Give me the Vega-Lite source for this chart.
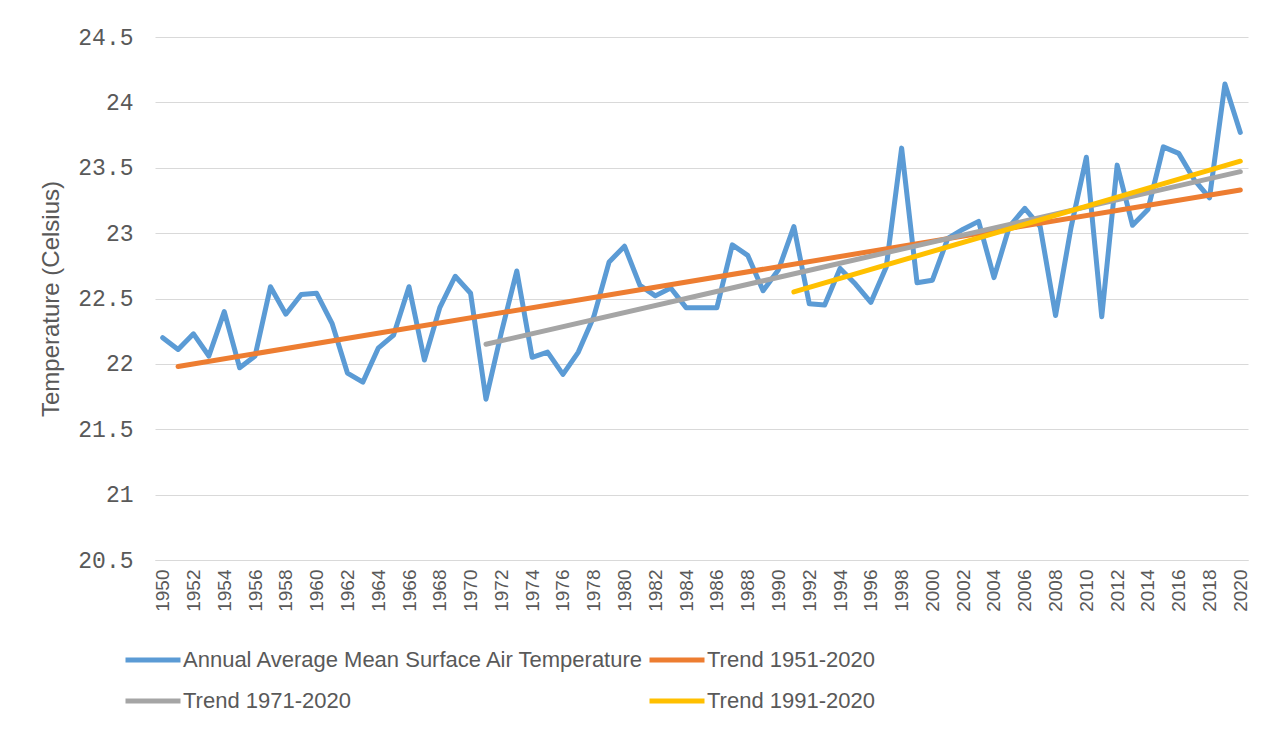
{
  "$schema": "https://vega.github.io/schema/vega-lite/v6.json",
  "width": 1093,
  "height": 523,
  "autosize": {"type": "none"},
  "padding": {"left": 155, "top": 37, "right": 24, "bottom": 172},
  "background": "white",
  "config": {
    "view": {"stroke": null},
    "font": "Liberation Sans"
  },
  "data": {
    "values": [
      {"year": 1950, "series": "Annual Average Mean Surface Air Temperature", "temp": 22.20},
      {"year": 1951, "series": "Annual Average Mean Surface Air Temperature", "temp": 22.11},
      {"year": 1952, "series": "Annual Average Mean Surface Air Temperature", "temp": 22.23},
      {"year": 1953, "series": "Annual Average Mean Surface Air Temperature", "temp": 22.06},
      {"year": 1954, "series": "Annual Average Mean Surface Air Temperature", "temp": 22.40},
      {"year": 1955, "series": "Annual Average Mean Surface Air Temperature", "temp": 21.97},
      {"year": 1956, "series": "Annual Average Mean Surface Air Temperature", "temp": 22.06},
      {"year": 1957, "series": "Annual Average Mean Surface Air Temperature", "temp": 22.59},
      {"year": 1958, "series": "Annual Average Mean Surface Air Temperature", "temp": 22.38},
      {"year": 1959, "series": "Annual Average Mean Surface Air Temperature", "temp": 22.53},
      {"year": 1960, "series": "Annual Average Mean Surface Air Temperature", "temp": 22.54},
      {"year": 1961, "series": "Annual Average Mean Surface Air Temperature", "temp": 22.31},
      {"year": 1962, "series": "Annual Average Mean Surface Air Temperature", "temp": 21.93},
      {"year": 1963, "series": "Annual Average Mean Surface Air Temperature", "temp": 21.86},
      {"year": 1964, "series": "Annual Average Mean Surface Air Temperature", "temp": 22.12},
      {"year": 1965, "series": "Annual Average Mean Surface Air Temperature", "temp": 22.22},
      {"year": 1966, "series": "Annual Average Mean Surface Air Temperature", "temp": 22.59},
      {"year": 1967, "series": "Annual Average Mean Surface Air Temperature", "temp": 22.03},
      {"year": 1968, "series": "Annual Average Mean Surface Air Temperature", "temp": 22.43},
      {"year": 1969, "series": "Annual Average Mean Surface Air Temperature", "temp": 22.67},
      {"year": 1970, "series": "Annual Average Mean Surface Air Temperature", "temp": 22.54},
      {"year": 1971, "series": "Annual Average Mean Surface Air Temperature", "temp": 21.73},
      {"year": 1972, "series": "Annual Average Mean Surface Air Temperature", "temp": 22.24},
      {"year": 1973, "series": "Annual Average Mean Surface Air Temperature", "temp": 22.71},
      {"year": 1974, "series": "Annual Average Mean Surface Air Temperature", "temp": 22.05},
      {"year": 1975, "series": "Annual Average Mean Surface Air Temperature", "temp": 22.09},
      {"year": 1976, "series": "Annual Average Mean Surface Air Temperature", "temp": 21.92},
      {"year": 1977, "series": "Annual Average Mean Surface Air Temperature", "temp": 22.09},
      {"year": 1978, "series": "Annual Average Mean Surface Air Temperature", "temp": 22.36},
      {"year": 1979, "series": "Annual Average Mean Surface Air Temperature", "temp": 22.78},
      {"year": 1980, "series": "Annual Average Mean Surface Air Temperature", "temp": 22.90},
      {"year": 1981, "series": "Annual Average Mean Surface Air Temperature", "temp": 22.60},
      {"year": 1982, "series": "Annual Average Mean Surface Air Temperature", "temp": 22.52},
      {"year": 1983, "series": "Annual Average Mean Surface Air Temperature", "temp": 22.58},
      {"year": 1984, "series": "Annual Average Mean Surface Air Temperature", "temp": 22.43},
      {"year": 1985, "series": "Annual Average Mean Surface Air Temperature", "temp": 22.43},
      {"year": 1986, "series": "Annual Average Mean Surface Air Temperature", "temp": 22.43},
      {"year": 1987, "series": "Annual Average Mean Surface Air Temperature", "temp": 22.91},
      {"year": 1988, "series": "Annual Average Mean Surface Air Temperature", "temp": 22.83},
      {"year": 1989, "series": "Annual Average Mean Surface Air Temperature", "temp": 22.56},
      {"year": 1990, "series": "Annual Average Mean Surface Air Temperature", "temp": 22.72},
      {"year": 1991, "series": "Annual Average Mean Surface Air Temperature", "temp": 23.05},
      {"year": 1992, "series": "Annual Average Mean Surface Air Temperature", "temp": 22.46},
      {"year": 1993, "series": "Annual Average Mean Surface Air Temperature", "temp": 22.45},
      {"year": 1994, "series": "Annual Average Mean Surface Air Temperature", "temp": 22.73},
      {"year": 1995, "series": "Annual Average Mean Surface Air Temperature", "temp": 22.61},
      {"year": 1996, "series": "Annual Average Mean Surface Air Temperature", "temp": 22.47},
      {"year": 1997, "series": "Annual Average Mean Surface Air Temperature", "temp": 22.74},
      {"year": 1998, "series": "Annual Average Mean Surface Air Temperature", "temp": 23.65},
      {"year": 1999, "series": "Annual Average Mean Surface Air Temperature", "temp": 22.62},
      {"year": 2000, "series": "Annual Average Mean Surface Air Temperature", "temp": 22.64},
      {"year": 2001, "series": "Annual Average Mean Surface Air Temperature", "temp": 22.96},
      {"year": 2002, "series": "Annual Average Mean Surface Air Temperature", "temp": 23.03},
      {"year": 2003, "series": "Annual Average Mean Surface Air Temperature", "temp": 23.09},
      {"year": 2004, "series": "Annual Average Mean Surface Air Temperature", "temp": 22.66},
      {"year": 2005, "series": "Annual Average Mean Surface Air Temperature", "temp": 23.05},
      {"year": 2006, "series": "Annual Average Mean Surface Air Temperature", "temp": 23.19},
      {"year": 2007, "series": "Annual Average Mean Surface Air Temperature", "temp": 23.05},
      {"year": 2008, "series": "Annual Average Mean Surface Air Temperature", "temp": 22.37},
      {"year": 2009, "series": "Annual Average Mean Surface Air Temperature", "temp": 23.04},
      {"year": 2010, "series": "Annual Average Mean Surface Air Temperature", "temp": 23.58},
      {"year": 2011, "series": "Annual Average Mean Surface Air Temperature", "temp": 22.36},
      {"year": 2012, "series": "Annual Average Mean Surface Air Temperature", "temp": 23.52},
      {"year": 2013, "series": "Annual Average Mean Surface Air Temperature", "temp": 23.06},
      {"year": 2014, "series": "Annual Average Mean Surface Air Temperature", "temp": 23.18},
      {"year": 2015, "series": "Annual Average Mean Surface Air Temperature", "temp": 23.66},
      {"year": 2016, "series": "Annual Average Mean Surface Air Temperature", "temp": 23.61},
      {"year": 2017, "series": "Annual Average Mean Surface Air Temperature", "temp": 23.41},
      {"year": 2018, "series": "Annual Average Mean Surface Air Temperature", "temp": 23.27},
      {"year": 2019, "series": "Annual Average Mean Surface Air Temperature", "temp": 24.14},
      {"year": 2020, "series": "Annual Average Mean Surface Air Temperature", "temp": 23.77},
      {"year": 1951, "series": "Trend 1951-2020", "temp": 21.98},
      {"year": 2020, "series": "Trend 1951-2020", "temp": 23.33},
      {"year": 1971, "series": "Trend 1971-2020", "temp": 22.15},
      {"year": 2020, "series": "Trend 1971-2020", "temp": 23.47},
      {"year": 1991, "series": "Trend 1991-2020", "temp": 22.55},
      {"year": 2020, "series": "Trend 1991-2020", "temp": 23.55}
    ]
  },
  "mark": {"type": "line", "strokeWidth": 5, "strokeCap": "round", "strokeJoin": "round"},
  "encoding": {
    "x": {
      "field": "year",
      "type": "quantitative",
      "scale": {"domain": [1949.5, 2020.5], "nice": false, "zero": false},
      "axis": {
        "title": null,
        "values": [1950,1952,1954,1956,1958,1960,1962,1964,1966,1968,1970,1972,1974,1976,1978,1980,1982,1984,1986,1988,1990,1992,1994,1996,1998,2000,2002,2004,2006,2008,2010,2012,2014,2016,2018,2020],
        "format": "d",
        "labelAngle": -90,
        "labelFont": "Liberation Sans",
        "labelFontSize": 19,
        "labelColor": "#595959",
        "labelPadding": 9,
        "labelOverlap": false,
        "labelFlush": false,
        "ticks": false,
        "grid": false,
        "domain": true,
        "domainColor": "#d9d9d9",
        "domainWidth": 1
      }
    },
    "y": {
      "field": "temp",
      "type": "quantitative",
      "scale": {"domain": [20.5, 24.5], "nice": false, "zero": false},
      "axis": {
        "title": "Temperature (Celsius)",
        "titleFont": "Liberation Sans",
        "titleFontSize": 24,
        "titleFontWeight": "normal",
        "titleColor": "#595959",
        "titlePadding": 14,
        "values": [20.5, 21, 21.5, 22, 22.5, 23, 23.5, 24, 24.5],
        "format": "~g",
        "labelFont": "Liberation Mono",
        "labelFontSize": 23,
        "labelColor": "#595959",
        "labelPadding": 22,
        "ticks": false,
        "domain": false,
        "grid": true,
        "gridColor": "#d9d9d9",
        "gridWidth": 1
      }
    },
    "color": {
      "field": "series",
      "type": "nominal",
      "scale": {
        "domain": ["Annual Average Mean Surface Air Temperature", "Trend 1971-2020", "Trend 1951-2020", "Trend 1991-2020"],
        "range": ["#5B9BD5", "#A5A5A5", "#ED7D31", "#FFC000"]
      },
      "legend": {
        "title": null,
        "orient": "none",
        "legendX": -32,
        "legendY": 593,
        "columns": 2,
        "symbolType": "stroke",
        "symbolSize": 3025,
        "symbolStrokeWidth": 5,
        "labelFont": "Liberation Sans",
        "labelFontSize": 22,
        "labelColor": "#595959",
        "labelOffset": 0,
        "labelLimit": 1000,
        "columnPadding": -6,
        "rowPadding": 0,
        "padding": 0
      }
    }
  }
}
